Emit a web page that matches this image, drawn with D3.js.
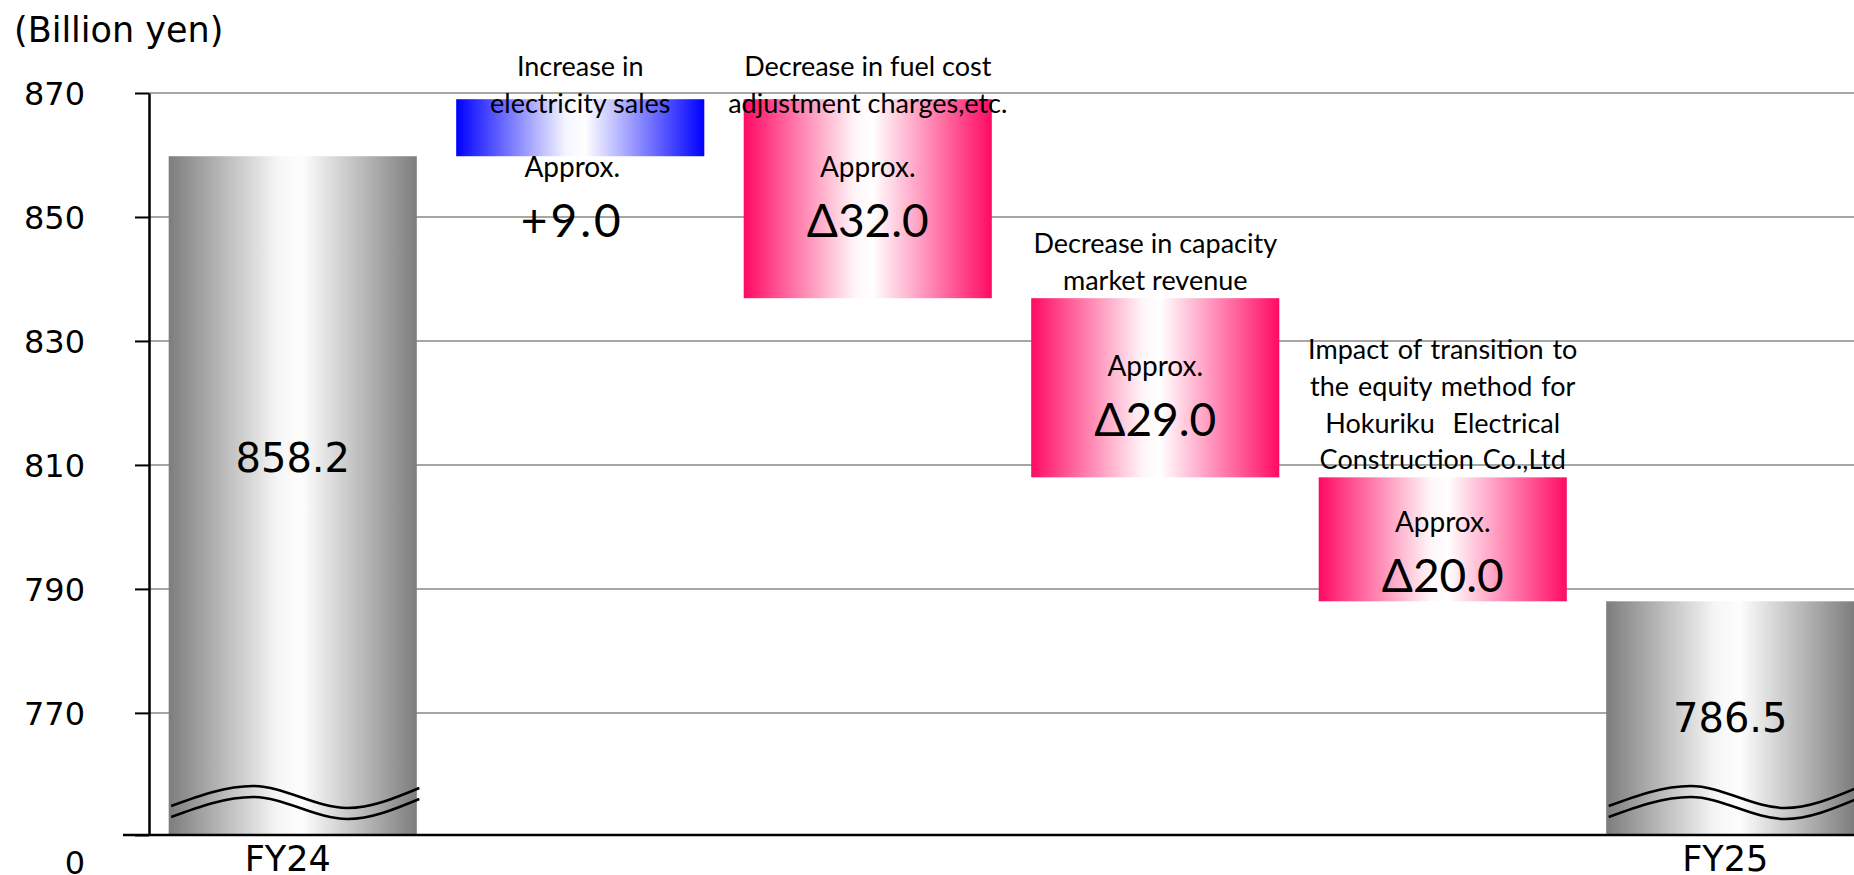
<!DOCTYPE html>
<html>
<head>
<meta charset="utf-8">
<script src="https://cdn.jsdelivr.net/npm/d3@7"></script>
<style>
  html, body { margin: 0; padding: 0; background: #fff; }
  svg { display: block; }
</style>
</head>
<body>
<svg id="chart" width="1854" height="875"></svg>
<script>
// ---------------- data ----------------
const categories   = ["FY24", "sales", "fuel", "capacity", "equity", "FY25"];
const axisLabels   = ["FY24", "", "", "", "", "FY25"];
const startValue   = 859.8;                 // FY24 bar top as drawn
const deltaValues  = [9.2, -32.1, -28.9, -20.0];
const totalLabels  = ["858.2", "786.5"];
const deltaLabels  = ["+9.0", "Δ32.0", "Δ29.0", "Δ20.0"];
const deltaPrefix  = "Approx.";
const descriptions = [
  ["Increase in", "electricity sales"],
  ["Decrease in fuel cost", "adjustment charges,etc."],
  ["Decrease in capacity", "market revenue"],
  ["Impact of transition to", "the equity method for", "Hokuriku  Electrical", "Construction Co.,Ltd"]
];
const yTicks     = [770, 790, 810, 830, 850, 870];
const axisBase   = 750.3;   // value at the broken baseline (labelled "0")
const baseLabel  = "0";
const unitLabel  = "(Billion yen)";

// ---------------- build waterfall ----------------
const bars = [];
let running = startValue;
bars.push({ key: categories[0], type: "total", lo: axisBase, hi: startValue, label: totalLabels[0] });
deltaValues.forEach((d, i) => {
  const from = running, to = running + d;
  bars.push({ key: categories[i + 1], type: d >= 0 ? "up" : "down",
              lo: Math.min(from, to), hi: Math.max(from, to),
              label: deltaLabels[i], desc: descriptions[i] });
  running = to;
});
bars.push({ key: categories[5], type: "total", lo: axisBase, hi: running, label: totalLabels[1] });

// ---------------- scales ----------------
const svg = d3.select("#chart");
const W = 1854;
const x = d3.scaleBand().domain(categories).range([149, 1874]).paddingInner(0.137).paddingOuter(0.0685);
const y = d3.scaleLinear().domain([axisBase, 870]).range([835, 93]);

// gradients
const defs = svg.append("defs");
function grad(id, stops) {
  const g = defs.append("linearGradient").attr("id", id).attr("x1", 0).attr("x2", 1).attr("y1", 0).attr("y2", 0);
  stops.forEach(([o, c]) => g.append("stop").attr("offset", o).attr("stop-color", c));
}
grad("gGray", [[0, "#7d7d7d"], [0.44, "#f6f6f6"], [0.54, "#fdfdfd"], [1, "#7d7d7d"]]);
grad("gBlue", [[0, "#0000ff"], [0.44, "#f4f4ff"], [0.52, "#ffffff"], [1, "#0000ff"]]);
grad("gPink", [[0, "#ff0a64"], [0.45, "#fff6f8"], [0.52, "#ffffff"], [1, "#ff0a64"]]);

// gridlines
svg.append("g").selectAll("line").data(yTicks).join("line")
  .attr("x1", x.range()[0]).attr("x2", W)
  .attr("y1", d => y(d)).attr("y2", d => y(d))
  .attr("stroke", "#a6a6a6").attr("stroke-width", 2);

// bars
svg.append("g").selectAll("rect").data(bars).join("rect")
  .attr("x", d => x(d.key))
  .attr("width", x.bandwidth())
  .attr("y", d => y(d.hi))
  .attr("height", d => y(d.lo) - y(d.hi))
  .attr("fill", d => d.type === "total" ? "url(#gGray)" : d.type === "up" ? "url(#gBlue)" : "url(#gPink)");

// axis break waves on total bars
const wave = d3.line().curve(d3.curveMonotoneX);
const totals = bars.filter(b => b.type === "total");
totals.forEach(b => {
  const x0 = x(b.key), bw = x.bandwidth();
  [0, 11].forEach(off => {
    const pts = [
      [x0 + bw * 0.01, y(axisBase) - 29 + off],
      [x0 + bw * 0.34, y(axisBase) - 49 + off],
      [x0 + bw * 0.72, y(axisBase) - 27 + off],
      [x0 + bw * 1.01, y(axisBase) - 47 + off]
    ];
    svg.append("path").attr("d", wave(pts)).attr("fill", "none")
      .attr("stroke", "#000").attr("stroke-width", 2.5);
  });
});

// y axis
const yAxis = d3.axisLeft(y)
  .tickValues([axisBase, ...yTicks])
  .tickSizeInner(14).tickSizeOuter(0).tickPadding(50)
  .tickFormat(d => d === axisBase ? baseLabel : d3.format("d")(d));
const gy = svg.append("g").attr("transform", `translate(${x.range()[0]},0)`).call(yAxis);
gy.select(".domain").attr("stroke", "#000").attr("stroke-width", 2.5);
gy.selectAll(".tick line").attr("stroke", "#000").attr("stroke-width", 2);
gy.selectAll(".tick text")
  .attr("font-family", "'DejaVu Sans', sans-serif").attr("font-size", 32).attr("fill", "#000")
  .attr("dy", d => d === axisBase ? "1.2em" : "0.36em");

// x axis line
svg.append("line")
  .attr("x1", x.range()[0] - 26).attr("x2", W)
  .attr("y1", y(axisBase)).attr("y2", y(axisBase))
  .attr("stroke", "#000").attr("stroke-width", 2.5);

// x axis labels
svg.append("g").selectAll("text").data(categories.filter((c, i) => axisLabels[i])).join("text")
  .attr("x", d => x(d) + x.bandwidth() / 2 - 5)
  .attr("y", y(axisBase) + 36)
  .attr("text-anchor", "middle")
  .attr("font-family", "'DejaVu Sans', sans-serif").attr("font-size", 35).attr("fill", "#000")
  .text(d => axisLabels[categories.indexOf(d)]);

// unit label
svg.append("text").attr("x", 14).attr("y", 42)
  .attr("font-family", "'DejaVu Sans', sans-serif").attr("font-size", 35)
  .attr("fill", "#000").text(unitLabel);

// total labels
svg.append("g").selectAll("text").data(totals).join("text")
  .attr("x", d => x(d.key) + x.bandwidth() / 2)
  .attr("y", d => { const t = y(d.hi), h = y(d.lo) - t; return t + 0.4167 * h + 19; })
  .attr("dy", "0.36em")
  .attr("text-anchor", "middle")
  .attr("font-family", "'DejaVu Sans', sans-serif").attr("font-size", 40).attr("fill", "#000")
  .text(d => d.label);

// delta labels
const deltas = bars.filter(b => b.type !== "total");
const calFont = "Lato, 'Open Sans', 'DejaVu Sans', sans-serif";
const lineH = 36.7;
deltas.forEach((b, k) => {
  const cx = x(b.key) + x.bandwidth() / 2;
  const top = y(b.hi), bot = y(b.lo), h = bot - top;
  let approxY;
  if (b.type === "up") approxY = bot + 21;
  else approxY = top + Math.min(77.5, h * 0.44);
  const vx = b.type === "up" ? cx - 8 : cx;
  svg.append("text").attr("x", vx).attr("y", approxY).attr("text-anchor", "middle")
    .attr("font-family", calFont).attr("font-size", 28).attr("fill", "#000").text(deltaPrefix);
  svg.append("text").attr("x", vx).attr("y", approxY + 60).attr("text-anchor", "middle")
    .attr("font-family", calFont).attr("font-size", 46).attr("fill", "#000")
    .attr("letter-spacing", b.type === "up" ? 3 : 0)
    .text(b.label);
  // description
  const n = b.desc.length;
  const lastY = Math.max(top - 8, 76 + (n - 1) * lineH);
  b.desc.forEach((line, i) => {
    svg.append("text").attr("x", cx).attr("y", lastY - (n - 1 - i) * lineH)
      .attr("text-anchor", "middle")
      .attr("font-family", calFont).attr("font-size", 27).attr("fill", "#000")
      .attr("word-spacing", n > 2 ? 2 : 0)
      .style("white-space", "pre")
      .text(line);
  });
});
</script>
</body>
</html>
